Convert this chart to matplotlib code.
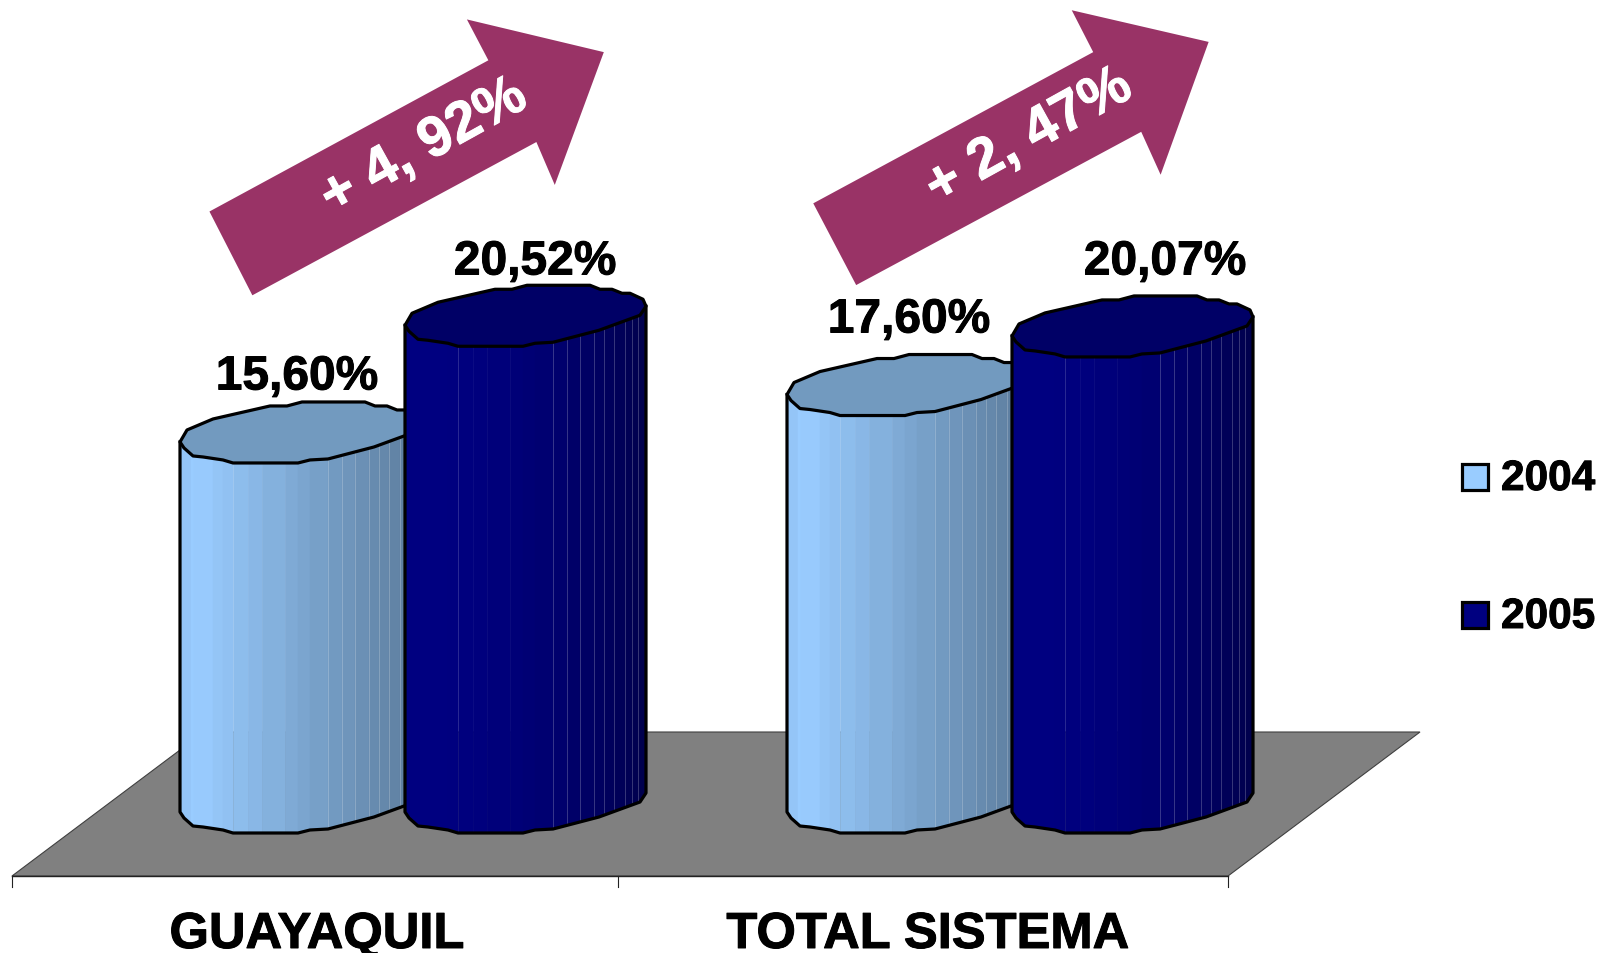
import numpy as np
import matplotlib
matplotlib.use('Agg')
import matplotlib.pyplot as plt
import matplotlib.patheffects as pe
from matplotlib.colors import to_rgb
from matplotlib.patches import Polygon, Rectangle

plt.rcParams['font.family'] = ['Liberation Sans', 'DejaVu Sans']
plt.rcParams['font.weight'] = 'bold'

categories = ['GUAYAQUIL', 'TOTAL SISTEMA']
years = ['2004', '2005']
values_2004 = [15.60, 17.60]
values_2005 = [20.52, 20.07]
labels_2004 = ['15,60%', '17,60%']
labels_2005 = ['20,52%', '20,07%']
changes = ['+ 4, 92%', '+ 2, 47%']

W, H = 1602, 954
BASE_PX = 813       # pixel row of the left edge at value 0
PX_PER_UNIT = 23.72
GROUP_LEFT = [180, 787]
SERIES_STEP = 225

# faceted outline of a cylinder end, px from the left edge (u right, v down)
LOWER_U = [0, 4, 13, 23, 43, 53, 118, 130, 148, 194, 235, 241]
LOWER_V = [0, 6, 14, 15, 18, 21, 21, 18, 17, 5, -10, -19]
UPPER_U = [0, 7, 33, 90, 107, 122, 185, 195, 207, 217, 225, 238, 241]
UPPER_V = [0, -12, -23, -36, -36, -40, -40, -36, -36, -32, -32, -26, -19]
# facet edges of the wall
STRIP_U = [0, 11, 14, 33, 43, 53, 68, 82, 105, 118, 130, 148, 162, 175, 189,
           199, 209, 220, 227, 233, 241]

LIGHT = ('#99CCFF', '#5A7A9A', '#729ABF', 1.0)
DARK = ('#000080', '#00004C', '#000066', 2.0)

fig = plt.figure(figsize=(W / 100, H / 100), dpi=100)

# pixel axes for the floor, arrows and legend
bg = fig.add_axes([0, 0, 1, 1], zorder=0)
bg.set_xlim(0, W)
bg.set_ylim(H, 0)
bg.axis('off')

# value axes for the cylinders
ax = fig.add_axes([0, 0, 1, 1], zorder=1)
ax.set_xlim(0, W)
ax.set_ylim((BASE_PX - H) / PX_PER_UNIT, BASE_PX / PX_PER_UNIT)
ax.axis('off')
ax.patch.set_alpha(0)

heavy = [pe.withStroke(linewidth=0.7, foreground='black')]

# floor
bg.add_patch(Polygon([(12, 877), (204, 733), (1420, 733), (1228, 877)],
                     closed=True, fc='#808080', ec='#404040', lw=0.8))
bg.plot([12, 1228], [877, 877], color='#222222', lw=1.0)
for x in [12, 618, 1228]:
    bg.plot([x, x], [877, 888], color='#222222', lw=0.8)
for x, name in zip([317, 928], categories):
    bg.text(x, 949, name, ha='center', va='baseline', fontsize=36.5, color='black',
            path_effects=heavy)


def mix(c1, c2, f):
    a, b = np.array(to_rgb(c1)), np.array(to_rgb(c2))
    return tuple(a + (b - a) * f)


def cylinder(left, value, colors, z):
    low_u = left + np.array(LOWER_U)
    low_v = -np.array(LOWER_V) / PX_PER_UNIT
    up_u = left + np.array(UPPER_U)
    up_v = -np.array(UPPER_V) / PX_PER_UNIT
    xs = left + np.array(STRIP_U, dtype=float)
    front = np.interp(xs, low_u, low_v)
    # walls follow the lower edge, keep its corners in each strip
    for i in range(len(xs) - 1):
        mid = (STRIP_U[i] + STRIP_U[i + 1]) / 2 / 241
        f = 0.08 if i == 0 else max(0, mid - 0.08) / 0.92
        col = mix(colors[0], colors[1], f ** colors[3])
        keep = (low_u > xs[i]) & (low_u < xs[i + 1])
        sx = np.concatenate([[xs[i]], low_u[keep], [xs[i + 1]]])
        sy = np.concatenate([[front[i]], low_v[keep], [front[i + 1]]])
        pts = np.column_stack([np.concatenate([sx, sx[::-1]]),
                               np.concatenate([sy, sy[::-1] + value])])
        ax.add_patch(Polygon(pts, closed=True, fc=col, ec=col, lw=0.4, zorder=z))
        if STRIP_U[i + 1] >= 148 and i < len(xs) - 2:
            ax.plot([xs[i + 1]] * 2, [front[i + 1], value + front[i + 1]],
                    color='white', alpha=0.25, lw=0.6, zorder=z + 0.1)
    # top face
    tx = np.concatenate([low_u, up_u[::-1]])
    ty = np.concatenate([low_v, up_v[::-1]]) + value
    ax.add_patch(Polygon(np.column_stack([tx, ty]), closed=True, fc=colors[2],
                         ec='black', lw=2.3, zorder=z + 0.2, joinstyle='round'))
    # outline of the wall
    ox = np.concatenate([[low_u[0]], low_u, [low_u[-1]]])
    oy = np.concatenate([[low_v[0] + value], low_v, [low_v[-1] + value]])
    ax.plot(ox, oy, color='black', lw=2.3, zorder=z + 0.2, solid_joinstyle='round')


for g in range(len(categories)):
    cylinder(GROUP_LEFT[g], values_2004[g], LIGHT, 2 + 2 * g)
    cylinder(GROUP_LEFT[g] + SERIES_STEP, values_2005[g], DARK, 3 + 2 * g)

# value labels, placed in pixels above each top
for x, y, s in zip([297, 909], [378, 321], labels_2004):
    bg.text(x, y, s, ha='center', va='center', fontsize=34.5, color='black', path_effects=heavy)
for x, y, s in zip([535, 1165], [263, 263], labels_2005):
    bg.text(x, y, s, ha='center', va='center', fontsize=34.5, color='black', path_effects=heavy)

# growth arrows
K = W / 1568
arrow_1 = np.array([(205, 208), (247, 290), (525, 140), (543, 182), (591, 52), (457, 20), (478, 60)]) * K
arrow_2 = np.array([(796, 200), (838, 280), (1117, 130), (1136, 172), (1183, 42), (1049, 11), (1070, 52)]) * K
for pts in [arrow_1, arrow_2]:
    bg.add_patch(Polygon(pts, closed=True, fc='#993366', ec='none'))
for (x, y), s in zip([(424, 148), (1029, 138)], changes):
    bg.text(x, y, s, ha='center', va='center', rotation=29, rotation_mode='anchor',
            fontsize=41, color='white', path_effects=[pe.withStroke(linewidth=0.7, foreground='white')])

# legend
for y, name, col in zip([465, 603], years, [LIGHT[0], DARK[0]]):
    bg.add_patch(Rectangle((1462, y), 26, 26, fc=col, ec='black', lw=2.3))
    bg.text(1501, y + 15, name, ha='left', va='center', fontsize=30.5, color='black', path_effects=heavy)

fig.savefig('out.png', dpi=100)
